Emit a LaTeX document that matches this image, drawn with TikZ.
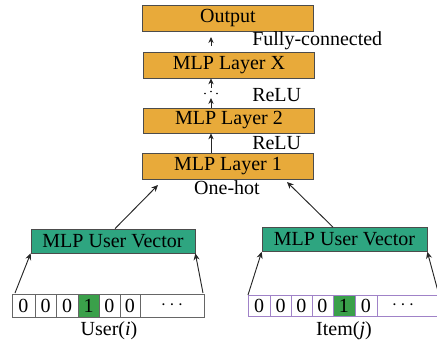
\documentclass[tikz,border=0pt]{standalone}
\usepackage{fontspec}
\setmainfont{Liberation Serif}
\usetikzlibrary{arrows.meta}
\definecolor{layerorange}{RGB}{232,170,58}
\definecolor{vecteal}{RGB}{46,165,128}
\definecolor{hotgreen}{RGB}{58,160,74}
\definecolor{itempurple}{RGB}{160,130,200}
\begin{document}
\begin{tikzpicture}[x=0.75pt,y=-0.75pt,
  font=\fontsize{15}{18}\selectfont,
  layer/.style={draw=black!70, fill=layerorange, minimum width=171*0.75pt, minimum height=26*0.75pt, inner sep=0pt, line width=0.5pt},
  vec/.style={draw=black!70, fill=vecteal, minimum height=24*0.75pt, inner sep=0pt, line width=0.5pt},
  cell/.style={draw=#1, minimum height=23*0.75pt, inner sep=0pt, line width=0.5pt},
  arr/.style={-{Stealth[length=5pt,width=4.5pt]}, line width=0.7pt, black!85},
  sarr/.style={-{Stealth[length=4.5pt,width=4pt]}, line width=0.7pt, black!85},
  lbl/.style={inner sep=0pt}
]
\useasboundingbox (0,0) rectangle (437,347);
\begin{scope}
\clip (0,0) rectangle (437,347);
% layers
\node[layer] (out) at (228,18) {Output};
\node[layer] (lx) at (229,65) {MLP Layer X};
\node[layer, minimum height=25*0.75pt] (l2) at (229,120.5) {MLP Layer 2};
\node[layer] (l1) at (228,166) {MLP Layer 1};
% arrows between layers
\coordinate (a0) at (211,46);
\coordinate (a0e) at (211,37);
\draw[sarr] (a0) -- (a0e);
\coordinate (d1) at (211,88);
\draw[sarr] (d1) -- (lx.south -| d1);
\coordinate (d2) at (211,98);
\draw[sarr] (l2.north -| d2) -- (d2);
\draw[sarr] (l1.north -| d2) -- (l2.south -| d2);
\fill (205,93.5) circle (0.9) (211,91.5) circle (0.9) (217,93.5) circle (0.9);
\node[lbl, anchor=west] (fc) at (252,41) {Fully-connected};
\node[lbl, anchor=west] (r1) at (252,95) {ReLU};
\node[lbl, anchor=west] (r2) at (252,143) {ReLU};
\node[lbl] (oh) at (227,188) {One-hot};
% vectors
\node[vec, minimum width=164*0.75pt] (uv) at (113,241) {MLP User Vector};
\node[vec, minimum width=165*0.75pt] (iv) at (344.5,239.5) {MLP User Vector};
\coordinate (l1a) at (158,185);
\coordinate (l1b) at (287,182);
\draw[arr] (uv.north -| 115,0) -- (l1a);
\draw[arr] (iv.north -| 333,0) -- (l1b);
% user one-hot
\foreach \n/\a/\b/\t/\f in {u0/12/35/0/white, u1/35/56/0/white, u2/56/78/0/white, u3/78/99/1/hotgreen, u4/99/120/0/white, u5/120/140/0/white, u6/140/204/{$\cdots$}/white}{
  \node[cell=black!60, fill=\f, minimum width={(\b-\a)*0.75pt}] (\n) at ({(\a+\b)/2},305.5) {\t};
}
\foreach \n/\a/\b/\t/\f in {i0/248/270/0/white, i1/270/291/0/white, i2/291/312/0/white, i3/312/333/0/white, i4/333/355/1/hotgreen, i5/355/377/0/white, i6/377/470/{}/white}{
  \node[cell=itempurple, fill=\f, minimum width={(\b-\a)*0.75pt}, minimum height=21*0.75pt] (\n) at ({(\a+\b)/2},305.5) {\t};
}
\node[lbl] (idots) at (403,305.5) {$\cdots$};
\coordinate (us) at (15,293);
\coordinate (ue) at (203,293);
\draw[arr] (us) -- (uv.south west);
\draw[arr] (ue) -- (uv.south east);
\coordinate (is) at (248,295);
\coordinate (ie) at (439,295);
\draw[arr] (is) -- (iv.south west);
\draw[arr] (ie) -- (iv.south east);
\node[lbl] (ul) at (109,331) {User(\textit{i})};
\node[lbl] (il) at (344,331) {Item(\textit{j})};
\end{scope}
\end{tikzpicture}
\end{document}
